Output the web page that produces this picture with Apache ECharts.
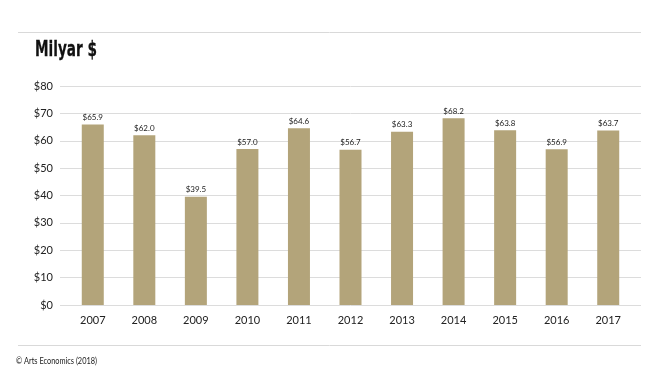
<!DOCTYPE html>
<html>
<head>
<meta charset="utf-8">
<script src="https://cdn.jsdelivr.net/npm/echarts@6/dist/echarts.min.js"></script>
<style>
html, body { margin: 0; padding: 0; background: #fff; }
#chart { width: 667px; height: 376px; }
</style>
</head>
<body>
<div id="chart"></div>
<script>
var years = ['2007', '2008', '2009', '2010', '2011', '2012', '2013', '2014', '2015', '2016', '2017'];
var sales = [65.9, 62.0, 39.5, 57.0, 64.6, 56.7, 63.3, 68.2, 63.8, 56.9, 63.7];
var yTicks = [0, 10, 20, 30, 40, 50, 60, 70, 80];

var myChart = echarts.init(document.getElementById('chart'));
var font = 'Lato, "Noto Sans", sans-serif';
var option = {
    animation: false,
    graphic: [
        { type: 'line', shape: { x1: 18, y1: 32.5, x2: 641, y2: 32.5 }, style: { stroke: '#d9d9d9', lineWidth: 1 } },
        { type: 'line', shape: { x1: 18, y1: 345.5, x2: 641, y2: 345.5 }, style: { stroke: '#d9d9d9', lineWidth: 1 } },
        { type: 'text', x: 35, y: 39, scaleX: 0.62, style: { text: 'Milyar $', font: 'bold 22px "DejaVu Sans", sans-serif', fill: '#111', stroke: '#111', lineWidth: 0.3 } },
        { type: 'text', x: 16, y: 357, scaleX: 0.82, style: { text: '© Arts Economics (2018)', font: '9px ' + font, fill: '#222' } }
    ],
    grid: [
        { left: 60, right: 26, top: 86, bottom: 71 },
        { left: 67, right: 33, top: 86, bottom: 71 }
    ],
    xAxis: [
        { gridIndex: 0, type: 'value', show: false, min: 0, max: 1 },
        {
            gridIndex: 1,
            type: 'category',
            data: years,
            axisLine: { show: false },
            axisTick: { show: false },
            axisLabel: { color: '#222', fontSize: 11, fontFamily: font, margin: 10 }
        }
    ],
    yAxis: [
        {
            gridIndex: 0,
            type: 'value',
            min: yTicks[0],
            max: yTicks[yTicks.length - 1],
            interval: 10,
            axisLine: { show: false },
            axisTick: { show: false },
            axisLabel: { color: '#222', fontSize: 11, fontFamily: font, margin: 7, formatter: '${value}' },
            splitLine: { lineStyle: { color: '#dcdcdc' } }
        },
        {
            gridIndex: 1,
            type: 'value',
            min: yTicks[0],
            max: yTicks[yTicks.length - 1],
            interval: 10,
            show: false
        }
    ],
    series: [{
        type: 'bar',
        xAxisIndex: 1,
        yAxisIndex: 1,
        data: sales,
        barWidth: 22,
        itemStyle: { color: '#b3a47a' },
        label: {
            show: true,
            position: 'top',
            distance: 3,
            color: '#222',
            fontSize: 8,
            fontFamily: font,
            formatter: function (p) { return '$' + p.value.toFixed(1); }
        }
    }]
};
myChart.setOption(option);
</script>
</body>
</html>
